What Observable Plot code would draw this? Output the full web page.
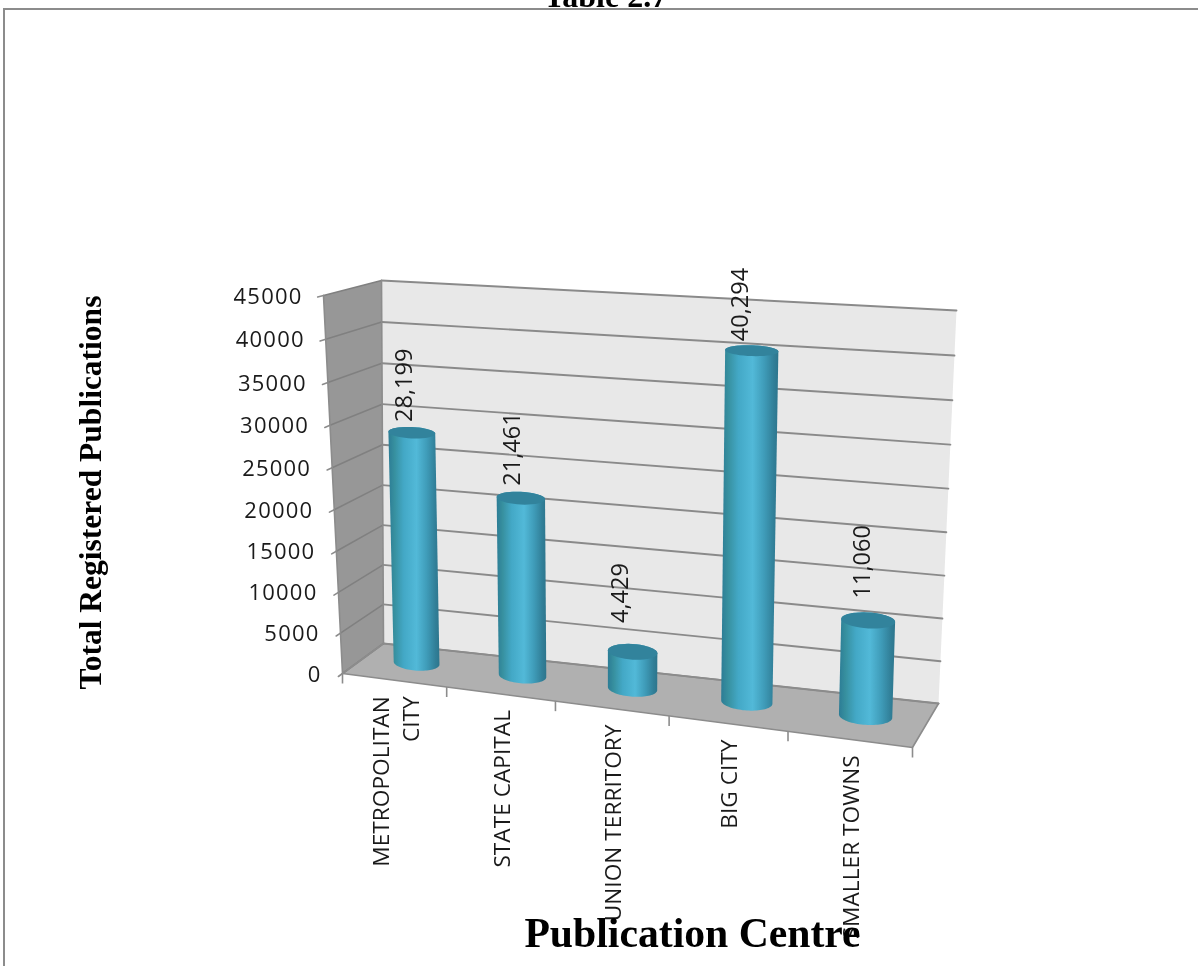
<!DOCTYPE html>
<html><head><meta charset="utf-8">
<script src="https://cdn.jsdelivr.net/npm/d3@7"></script>
<script src="https://cdn.jsdelivr.net/npm/@observablehq/plot@0.6"></script>
<style>
html,body{margin:0;padding:0;background:#fff;overflow:hidden}
#frame{position:absolute;left:3px;top:8px;width:1195px;height:958px;border-left:2px solid #8c8c8c;border-top:2px solid #8c8c8c;box-sizing:border-box}
#chart{position:absolute;left:0;top:0}
#chart svg{display:block;background:transparent;filter:blur(.4px)}
.ticks text{letter-spacing:1.2px}
</style></head><body>
<div id="frame"></div><div id="chart"></div>
<script>
// ---- chart data ----
const categories = ["METROPOLITAN\nCITY","STATE CAPITAL","UNION TERRITORY","BIG CITY","SMALLER TOWNS"];
const values = [28199,21461,4429,40294,11060];
const valueLabels = ["28,199","21,461","4,429","40,294","11,060"];
const yTicks = [0,5000,10000,15000,20000,25000,30000,35000,40000,45000];
const xTitle = "Publication Centre";
const yTitle = "Total Registered Publications";
const tableTitle = "Table 2.7";

// ---- 3D view: corners of the chart box on the page (u: category, v: value, d: depth) ----
const W = 1198, H = 966, VMAX = 45000, N = categories.length;
const view = {
  front:{bl:[342,673],br:[912,747],tl:[323,295],tr:[920,326]},
  back:{bl:[383,643],br:[938,703],tl:[381,280],tr:[956,310]}
};
function homography(q){ // unit square -> quad; (s,t): s along category, t upward
  const [x0,y0]=q.bl,[x1,y1]=q.br,[x2,y2]=q.tr,[x3,y3]=q.tl;
  const dx1=x1-x2,dx2=x3-x2,sx=x0-x1+x2-x3,dy1=y1-y2,dy2=y3-y2,sy=y0-y1+y2-y3;
  const den=dx1*dy2-dx2*dy1;
  const g=(sx*dy2-dx2*sy)/den,h=(dx1*sy-sx*dy1)/den;
  const a=x1-x0+g*x1,b=x3-x0+h*x3,c=x0,d=y1-y0+g*y1,e=y3-y0+h*y3,f=y0;
  return (s,t)=>{const w=g*s+h*t+1;return [(a*s+b*t+c)/w,(d*s+e*t+f)/w];};
}
const hFront=homography(view.front), hBack=homography(view.back);
const P=(u,v,d)=>{const a=hFront(u/N,v/VMAX),b=hBack(u/N,v/VMAX);return [a[0]+(b[0]-a[0])*d,a[1]+(b[1]-a[1])*d];};

// ---- shapes derived from the data ----
const poly=(id,pts)=>pts.map(p=>({id,x:p[0],y:p[1]}));
const leftWall=poly("l",[P(0,0,0),P(0,VMAX,0),P(0,VMAX,1),P(0,0,1)]);
const backWall=poly("b",[P(0,0,1),P(0,VMAX,1),P(N,VMAX,1),P(N,0,1)]);
const floor=poly("f",[P(0,0,0),P(0,0,1),P(N,0,1),P(N,0,0)]);
const gridLeft=yTicks.flatMap(v=>poly(v,[P(0,v,0),P(0,v,1)]));
const gridBack=yTicks.flatMap(v=>poly(v,[P(0,v,1),P(N,v,1)]));
const yStubs=yTicks.flatMap(v=>poly(v,[P(0,v,-0.1),P(0,v,0)]));
const floorEdge=[...poly("e",[P(0,0,0),P(N,0,0),P(N,0,1)]),...poly("g",[P(0,0,0),P(0,0,1)]),...poly("h",[P(0,0,1),P(N,0,1)]),...poly("w",[P(0,0,0),P(0,VMAX,0)]),...poly("w2",[P(0,0,1),P(0,VMAX,1)])];
const xStubs=d3.range(N+1).map(i=>{const p=P(i,0,0);return {x1:p[0],y1:p[1],x2:p[0],y2:p[1]+10};});

const BAR_R=0.22, DEPTH=0.55, TILT=0.55;
function ring(u,v){
  const c=P(u,v,DEPTH),l=P(u-BAR_R,v,DEPTH),r=P(u+BAR_R,v,DEPTH);
  const rx=(r[0]-l[0])/2, slope=(r[1]-l[1])/(r[0]-l[0])*TILT, ry=rx*(0.33-0.14*v/VMAX);
  return t=>[c[0]+rx*Math.cos(t), c[1]+rx*Math.cos(t)*slope+ry*Math.sin(t)];
}
const arc=(f,a,b)=>d3.range(41).map(i=>f(a+(b-a)*i/40));
const bodies=values.flatMap((v,i)=>{
  const u=i+.5, top=ring(u,v), base=ring(u,0);
  return poly(i,[...arc(base,Math.PI,0),...arc(top,0,-Math.PI)]);
});
const caps=values.flatMap((v,i)=>poly(i,arc(ring(i+.5,v),0,2*Math.PI)));
// each rotated value label sits at its own offset from the top of its bar
const labelNudge=[[-7,-5],[-8,-6],[-12,-21],[-11,-4],[-6,-14]];
const dataLabels=values.map((v,i)=>{const p=ring(i+.5,v)(-Math.PI/2);return {x:p[0]+labelNudge[i][0],y:p[1]+labelNudge[i][1],t:valueLabels[i]};});
const tickLabels=yTicks.map(v=>{const p=P(0,v,0);return {x:p[0],y:p[1],t:String(v)};});
const catLabels=categories.map((c,i)=>{const p=P(i+.5,0,0);return {x:p[0],y:p[1],t:c};});

const defs=()=>{
  const s=d3.create("svg:defs");
  const grad=(id,stops)=>{const g=s.append("linearGradient").attr("id",id);stops.forEach(([o,c])=>g.append("stop").attr("offset",o).attr("stop-color",c));};
  grad("cyl",[[0,"#2c7c95"],[.12,"#37909f"],[.3,"#43a8c6"],[.55,"#52b9d8"],[.75,"#3f9cb9"],[.92,"#317f98"],[1,"#2d758c"]]);
  return s.node();
};
const serif={fontFamily:"Liberation Serif",fontWeight:"bold",fill:"#000"};
const sans={fontFamily:"Open Sans",fill:"#1a1a1a"};
const chart=Plot.plot({
  width:W,height:H,margin:0,
  x:{domain:[0,W],range:[0,W],axis:null},
  y:{domain:[0,H],range:[0,H],axis:null},
  marks:[
    defs,
    Plot.line(leftWall,{x:"x",y:"y",fill:"#979797",stroke:"none",z:"id"}),
    Plot.line(backWall,{x:"x",y:"y",fill:"#e8e8e8",stroke:"none",z:"id"}),
    Plot.line(floor,{x:"x",y:"y",fill:"#b0b0b0",stroke:"none",z:"id"}),
    Plot.line(gridLeft,{x:"x",y:"y",z:"id",stroke:"#808080",strokeWidth:1.6}),
    Plot.line(gridBack,{x:"x",y:"y",z:"id",stroke:"#8a8a8a",strokeWidth:1.9}),
    Plot.line(floorEdge,{x:"x",y:"y",z:"id",stroke:"#8c8c8c",strokeWidth:1.6}),
    Plot.line(yStubs,{x:"x",y:"y",z:"id",stroke:"#8c8c8c",strokeWidth:1.6}),
    Plot.link(xStubs,{x1:"x1",y1:"y1",x2:"x2",y2:"y2",stroke:"#8c8c8c",strokeWidth:1.6}),
    Plot.line(bodies,{x:"x",y:"y",z:"id",fill:"url(#cyl)",stroke:"none"}),
    Plot.line(caps,{x:"x",y:"y",z:"id",fill:"#32839c",stroke:"none"}),
    Plot.text(tickLabels,{x:"x",y:"y",text:"t",textAnchor:"end",dx:-21,dy:1,fontSize:22,className:"ticks",...sans}),
    Plot.text(dataLabels,{x:"x",y:"y",text:"t",rotate:-90,textAnchor:"start",fontSize:23.6,...sans}),
    Plot.text(catLabels,{x:"x",y:"y",text:"t",rotate:-90,textAnchor:"end",dy:16,fontSize:22.7,lineHeight:1.32,...sans}),
    Plot.text([yTitle],{frameAnchor:"top-left",dx:90,dy:492,rotate:-90,textAnchor:"middle",lineAnchor:"middle",fontSize:31.5,...serif}),
    Plot.text([xTitle],{frameAnchor:"top-left",dx:692,dy:933,textAnchor:"middle",lineAnchor:"middle",fontSize:41.7,...serif}),
    Plot.text([tableTitle],{frameAnchor:"top-left",dx:605,dy:-4,textAnchor:"middle",lineAnchor:"middle",fontSize:32,...serif})
  ]
});
document.getElementById("chart").append(chart);
</script></body></html>
